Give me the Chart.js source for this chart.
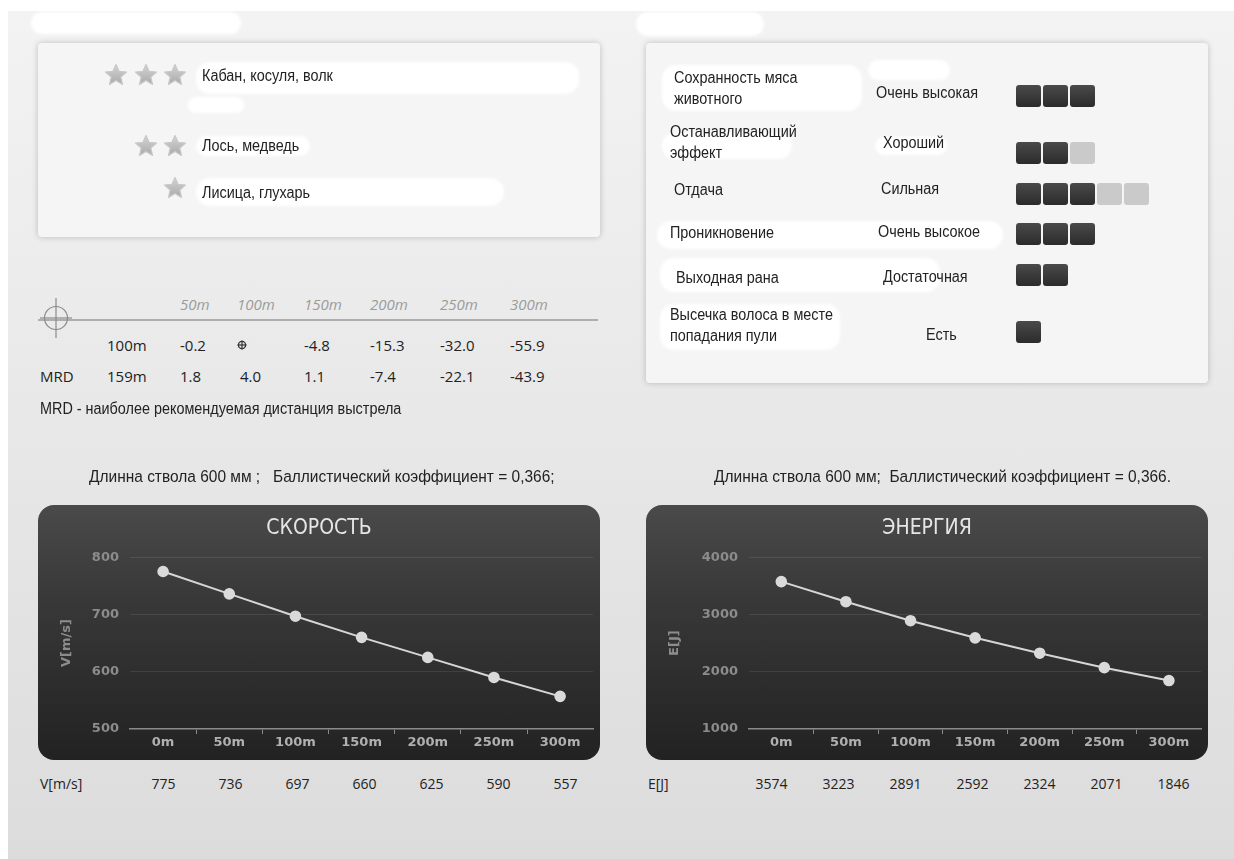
<!DOCTYPE html>
<html lang="ru">
<head>
<meta charset="utf-8">
<title>Баллистика</title>
<script src="https://cdn.jsdelivr.net/npm/chart.js@4.4.1/dist/chart.umd.min.js"></script>
<style>
  html, body { margin: 0; padding: 0; }
  body { width: 1234px; height: 859px; background: #fff; position: relative; overflow: hidden;
         font-family: "Open Sans", sans-serif; color: #222; }
  #page { position: absolute; left: 8px; top: 11px; right: 0; bottom: 0; background: linear-gradient(#f3f3f3, #dcdcdc); }
  .abs { position: absolute; white-space: nowrap; }
  .narrow { font-family: "Liberation Sans", Arial, sans-serif; transform: scaleX(0.9); transform-origin: left center; }
  .card { position: absolute; background: #f5f5f5; border-radius: 4px; box-shadow: 0 0 6px rgba(0,0,0,0.22); }
  .blob { position: absolute; background: #fff; border-radius: 14px; filter: blur(1.5px); }
  .panel { position: absolute; top: 505px; width: 562px; height: 255px; border-radius: 16px; overflow: hidden;
           background: linear-gradient(#4a4a4a 0%, #393939 35%, #222 100%); }
  .box { position: absolute; width: 25px; height: 22px; border-radius: 3px; }
  .box.on { background: linear-gradient(#4a4a4a, #2b2b2b); }
  .box.off { background: #cacaca; }
  .vals span { display: inline-block; width: 67px; text-align: center; }
</style>
</head>
<body>
<div id="page"></div>

<!-- scribbles at the top of the page -->
<div class="blob" style="left:31px;top:12px;width:210px;height:22px;"></div>
<div class="blob" style="left:636px;top:12px;width:128px;height:24px;"></div>

<div class="card" id="gameCard" style="left:38px;top:43px;width:562px;height:194px;"></div>
<div class="card" id="propCard" style="left:646px;top:43px;width:562px;height:340px;"></div>

<div class="abs narrow" style="left:89px;top:466px;font-size:17.2px;">Длинна ствола 600 мм ;&nbsp;&nbsp; Баллистический коэффициент = 0,366;</div>
<div class="abs narrow" style="left:714px;top:466px;font-size:17.2px;">Длинна ствола 600 мм;&nbsp; Баллистический коэффициент = 0,366.</div>

<div class="panel" style="left:38px;"><canvas id="speedChart"></canvas></div>
<div class="panel" style="left:646px;"><canvas id="energyChart"></canvas></div>

<div class="abs vals" id="speedVals" style="left:40px;top:774px;font-size:14px;"></div>
<div class="abs vals" id="energyVals" style="left:648px;top:774px;font-size:14px;"></div>

<script>
// ---- data ----
const distances = ['0m', '50m', '100m', '150m', '200m', '250m', '300m'];
const velocity = [775, 736, 697, 660, 625, 590, 557];
const energy = [3574, 3223, 2891, 2592, 2324, 2071, 1846];

const dropRanges = ['50m', '100m', '150m', '200m', '250m', '300m'];
const drop100 = ['-0.2', '⊕', '-4.8', '-15.3', '-32.0', '-55.9'];
const dropMRD = ['1.8', '4.0', '1.1', '-7.4', '-22.1', '-43.9'];

const gameStars = [3, 2, 1];
const gameNames = ['Кабан, косуля, волк', 'Лось, медведь', 'Лисица, глухарь'];

const propNames = [['Сохранность мяса', 'животного'], ['Останавливающий', 'эффект'], ['Отдача'],
                   ['Проникновение'], ['Выходная рана'], ['Высечка волоса в месте', 'попадания пули']];
const propValues = ['Очень высокая', 'Хороший', 'Сильная', 'Очень высокое', 'Достаточная', 'Есть'];
const propFilled = [3, 2, 3, 3, 2, 1];
const propTotal = [3, 3, 5, 3, 2, 1];

const CONDENSED = '"DejaVu Sans Condensed", "Liberation Sans", sans-serif';

function put(html) {
    document.body.insertAdjacentHTML('beforeend', html);
}

// ---- game card ----
const starSvg = '<svg width="24" height="23" viewBox="0 0 24 23" style="position:absolute;"><defs><linearGradient id="sg" x1="0" y1="0" x2="0" y2="1"><stop offset="0" stop-color="#d4d4d4"/><stop offset="1" stop-color="#a9a9a9"/></linearGradient></defs>' +
    '<path d="M12 1.5 L15 8.3 L22.5 9 L16.8 14 L18.5 21.5 L12 17.6 L5.5 21.5 L7.2 14 L1.5 9 L9 8.3 Z" fill="url(#sg)" stroke="#c8c8c8" stroke-width="1.2" stroke-linejoin="round"/></svg>';
const gameStarY = [75, 146, 188];
const gameTextY = [76, 146, 193];
put('<div class="blob" style="left:196px;top:62px;width:383px;height:32px;"></div>');
put('<div class="blob" style="left:188px;top:97px;width:56px;height:16px;"></div>');
put('<div class="blob" style="left:196px;top:136px;width:114px;height:20px;"></div>');
put('<div class="blob" style="left:196px;top:178px;width:308px;height:28px;"></div>');
gameNames.forEach((name, i) => {
    for (let s = 0; s < gameStars[i]; s++) {
        const x = 163 - s * 29.5;
        put('<div class="abs" style="left:' + x + 'px;top:' + (gameStarY[i] - 12) + 'px;">' + starSvg + '</div>');
    }
    put('<div class="abs narrow" style="left:202px;top:' + (gameTextY[i] - 10) + 'px;font-size:16px;line-height:20px;">' + name + '</div>');
});

// ---- properties card ----
const propLabelX = [674, 670, 674, 670, 676, 670];
const propLabelY = [77, 131, 189, 232, 277, 314];
const propValueX = [876, 883, 881, 878, 883, 926];
const propValueY = [93, 143, 189, 232, 277, 335];
const propBoxY = [85, 142, 183, 223, 264, 321];
put('<div class="blob" style="left:662px;top:65px;width:200px;height:46px;"></div>');
put('<div class="blob" style="left:868px;top:60px;width:82px;height:20px;"></div>');
put('<div class="blob" style="left:662px;top:133px;width:130px;height:26px;"></div>');
put('<div class="blob" style="left:875px;top:137px;width:72px;height:18px;"></div>');
put('<div class="blob" style="left:657px;top:221px;width:346px;height:28px;"></div>');
put('<div class="blob" style="left:660px;top:258px;width:280px;height:34px;"></div>');
put('<div class="blob" style="left:660px;top:304px;width:180px;height:46px;"></div>');
propNames.forEach((lines, i) => {
    put('<div class="abs narrow" style="left:' + propLabelX[i] + 'px;top:' + (propLabelY[i] - 10) + 'px;font-size:16px;line-height:21px;">' + lines.join('<br>') + '</div>');
    put('<div class="abs narrow" style="left:' + propValueX[i] + 'px;top:' + (propValueY[i] - 10) + 'px;font-size:16px;line-height:20px;">' + propValues[i] + '</div>');
    for (let b = 0; b < propTotal[i]; b++) {
        const cls = b < propFilled[i] ? 'on' : 'off';
        put('<div class="box ' + cls + '" style="left:' + (1016 + b * 27) + 'px;top:' + propBoxY[i] + 'px;"></div>');
    }
});

// ---- drop table ----
const dropColX = [180, 237, 304, 370, 440, 510];
put('<svg class="abs" style="left:0;top:0;" width="620" height="350">' +
    '<line x1="38" y1="320" x2="598" y2="320" stroke="#9a9a9a" stroke-width="1.5"/>' +
    '<circle cx="56" cy="318" r="11.5" fill="none" stroke="#8a8a8a" stroke-width="1.2"/>' +
    '<line x1="56" y1="298" x2="56" y2="338" stroke="#8a8a8a" stroke-width="1.2"/>' +
    '<line x1="40" y1="318" x2="72" y2="318" stroke="#8a8a8a" stroke-width="1.2"/></svg>');
dropRanges.forEach((r, i) => {
    put('<div class="abs" style="left:' + dropColX[i] + 'px;top:294px;font-size:15px;line-height:20px;font-style:italic;color:#9b9b9b;">' + r + '</div>');
});
put('<div class="abs" style="left:107px;top:335px;font-size:15px;line-height:20px;">100m</div>');
put('<div class="abs" style="left:40px;top:366px;font-size:15px;line-height:20px;">MRD</div>');
put('<div class="abs" style="left:107px;top:366px;font-size:15px;line-height:20px;">159m</div>');
drop100.forEach((v, i) => {
    if (v === '⊕') {
        put('<svg class="abs" style="left:' + dropColX[i] + 'px;top:340px;" width="10" height="10"><circle cx="5" cy="5" r="3.6" fill="none" stroke="#333" stroke-width="1.3"/><line x1="5" y1="0.5" x2="5" y2="9.5" stroke="#333" stroke-width="1.2"/><line x1="0.5" y1="5" x2="9.5" y2="5" stroke="#333" stroke-width="1.2"/></svg>');
    } else {
        put('<div class="abs" style="left:' + dropColX[i] + 'px;top:335px;font-size:15px;line-height:20px;">' + v + '</div>');
    }
});
dropMRD.forEach((v, i) => {
    const x = i === 1 ? 240 : dropColX[i];
    put('<div class="abs" style="left:' + x + 'px;top:366px;font-size:15px;line-height:20px;">' + v + '</div>');
});
put('<div class="abs narrow" style="left:40px;top:399px;font-size:16px;line-height:20px;">MRD - наиболее рекомендуемая дистанция выстрела</div>');

// ---- value rows under the charts ----
function fillValues(id, label, labelWidth, values) {
    let html = '<span style="width:' + labelWidth + 'px;text-align:left;">' + label + '</span>';
    values.forEach(v => { html += '<span>' + v + '</span>'; });
    document.getElementById(id).innerHTML = html;
}
fillValues('speedVals', 'V[m/s]', 90, velocity);
fillValues('energyVals', 'E[J]', 90, energy);

// ---- charts ----
function makeChart(canvasId, title, axisTitle, values, min, max, step, axisWidth) {
    const ctx = document.getElementById(canvasId).getContext('2d');
    return new Chart(ctx, {
        type: 'line',
        data: {
            labels: distances,
            datasets: [{
                data: values,
                borderColor: '#d6d6d6',
                borderWidth: 2,
                pointRadius: 4.8,
                pointBackgroundColor: '#dadada',
                pointBorderColor: '#dadada',
                tension: 0
            }]
        },
        options: {
            responsive: true,
            maintainAspectRatio: false,
            animation: false,
            layout: { padding: 0 },
            plugins: {
                legend: { display: false },
                tooltip: { enabled: false },
                title: {
                    display: true,
                    text: title,
                    color: '#e6e6e6',
                    font: { family: CONDENSED, size: 21, weight: 'normal' },
                    padding: { top: 11, bottom: 16 }
                }
            },
            scales: {
                x: {
                    offset: true,
                    grid: {
                        offset: true,
                        drawOnChartArea: false,
                        tickLength: 5,
                        color: c => (c.type !== 'tick' || c.index === 0) ? 'rgba(0,0,0,0)' : '#8a8a8a'
                    },
                    border: { display: true, color: '#8a8a8a', width: 1.5 },
                    ticks: {
                        color: '#b0b0b0',
                        padding: 1,
                        maxRotation: 0,
                        font: { family: 'DejaVu Sans', size: 13, weight: 'bold' }
                    },
                    afterFit: scale => { scale.height = 31; }
                },
                y: {
                    min: min,
                    max: max,
                    grid: {
                        drawTicks: false,
                        color: c => c.tick && c.tick.value === min ? 'rgba(0,0,0,0)' : 'rgba(255,255,255,0.09)'
                    },
                    border: { display: false },
                    ticks: {
                        stepSize: step,
                        color: '#8c8c8c',
                        padding: 11,
                        font: { family: 'DejaVu Sans', size: 13, weight: 'bold' },
                        callback: v => String(v)
                    },
                    title: {
                        display: true,
                        text: axisTitle,
                        color: '#8c8c8c',
                        font: { family: 'DejaVu Sans', size: 13, weight: 'bold' },
                        padding: { top: 21, bottom: 0 }
                    },
                    afterFit: scale => { scale.width = axisWidth; }
                }
            }
        }
    });
}

makeChart('speedChart', 'СКОРОСТЬ', 'V[m/s]', velocity, 500, 800, 100, 92);
makeChart('energyChart', 'ЭНЕРГИЯ', 'E[J]', energy, 1000, 4000, 1000, 103);
</script>
</body>
</html>
